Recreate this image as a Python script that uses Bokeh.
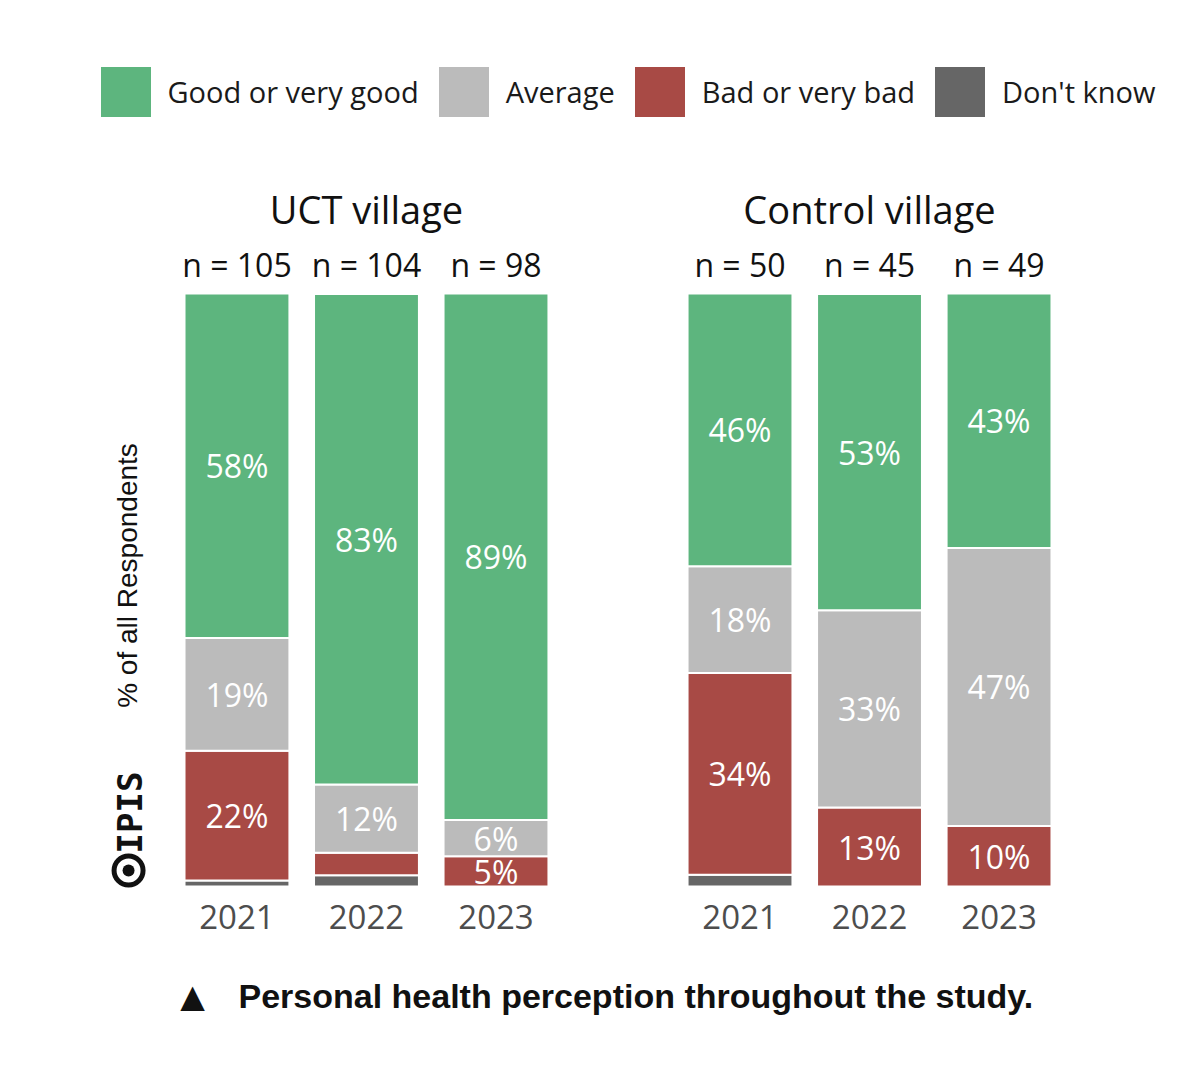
import math
from bokeh.plotting import figure
from bokeh.models import (ColumnDataSource, FactorRange, Range1d, Legend,
                          LegendItem, Label)
from bokeh.core.properties import value
from bokeh.embed import file_html
from bokeh.resources import INLINE

# ---------------- data ----------------
villages = ["UCT village"] * 3 + ["Control village"] * 3
years = ["2021", "2022", "2023", "2021", "2022", "2023"]
n_resp = [105, 104, 98, 50, 45, 49]
good = [58.1, 82.7, 88.8, 46.0, 53.3, 42.9]
average = [19.0, 11.5, 6.1, 18.0, 33.3, 46.9]
bad = [21.9, 3.8, 5.1, 34.0, 13.3, 10.2]
dont_know = [1.0, 1.9, 0.0, 2.0, 0.0, 0.0]

series_keys = ["dk", "bad", "avg", "good"]          # bottom -> top
series_labels = ["Don't know", "Bad or very bad", "Average", "Good or very good"]
series_colors = ["#666666", "#A84A45", "#BBBBBB", "#5DB57E"]
group_names = ["UCT village", "Control village"]
caption = "Personal health perception throughout the study."
y_label = "% of all Respondents"

FONT = "Open Sans"

factors = list(zip(villages, years))
src = ColumnDataSource(dict(x=factors, dk=dont_know, bad=bad, avg=average, good=good))

# ---------------- figure ----------------
W, H = 1184, 1056
LEFT = 51
x_range = FactorRange(*factors, factor_padding=0.0, group_padding=0.884,
                      range_padding=0.932, range_padding_units="absolute")
y_range = Range1d(-28.67, 149.41)

p = figure(width=W, height=H, x_range=x_range, y_range=y_range,
           output_backend="svg", toolbar_location=None,
           x_axis_location=None, y_axis_location=None,
           min_border_left=LEFT, min_border_right=0,
           min_border_top=0, min_border_bottom=0)
p.grid.visible = False
p.outline_line_color = None
p.background_fill_color = "white"
p.border_fill_color = "white"

renderers = p.vbar_stack(series_keys, x="x", width=0.81, source=src,
                         fill_color=series_colors, line_color="white",
                         line_width=2)

# percentage labels inside segments
lx, ly, lt = [], [], []
for i, f in enumerate(factors):
    base = 0.0
    for key, arr in zip(series_keys, [dont_know, bad, average, good]):
        v = arr[i]
        if v >= 5:
            lx.append(f)
            ly.append(base + v / 2)
            lt.append(f"{round(v)}%")
        base += v
p.text(x=lx, y=ly, text=lt, text_color="white", text_font=value(FONT),
       text_font_size="32px", text_align="center", text_baseline="middle")

# n = labels
p.text(x=factors, y=[104.9] * len(factors), text=[f"n = {n}" for n in n_resp],
       text_color="#111111", text_font=value(FONT), text_font_size="32px",
       text_align="center", text_baseline="middle")

# year labels
p.text(x=factors, y=[-5.1] * len(factors), text=years, text_color="#4d4d4d",
       text_font=value(FONT), text_font_size="33px", text_align="center",
       text_baseline="middle")

# group titles
p.text(x=group_names, y=[114.2] * 2, text=group_names, text_color="#111111",
       text_font=value(FONT), text_font_size="38px", text_align="center",
       text_baseline="middle")

# legend
items = [LegendItem(label=lab, renderers=[r])
         for lab, r in zip(series_labels, renderers)]
items = items[::-1]
legend = Legend(items=items, orientation="horizontal", location=(41.5, 932.5),
                glyph_width=65, glyph_height=65, label_standoff=10, spacing=12,
                padding=0, margin=0, border_line_alpha=0,
                background_fill_alpha=0, label_text_font=FONT,
                label_text_font_size="29px", label_text_color="#1a1a1a",
                label_height=65)
p.add_layout(legend, "center")

# y label
p.add_layout(Label(x=76, y=481, x_units="screen", y_units="screen",
                   text=y_label, angle=math.pi / 2, text_align="center",
                   text_baseline="middle", text_font="Liberation Sans",
                   text_font_size="28px", text_color="#111111"))

# logo
p.add_layout(Label(x=78, y=244, x_units="screen", y_units="screen",
                   text="IPIS", angle=math.pi / 2, text_align="center",
                   text_baseline="middle", text_font="DejaVu Sans Mono",
                   text_font_style="bold", text_font_size="34px",
                   text_color="#111111"))
p.scatter(x=[-0.337], y=[2.7], marker="circle", size=29, fill_alpha=0,
          line_color="#111111", line_width=5)
p.scatter(x=[-0.337], y=[2.7], marker="circle", size=12, fill_color="#111111",
          line_color=None)

# caption
p.add_layout(Label(x=141, y=61, x_units="screen", y_units="screen",
                   text="▲", text_align="center", text_baseline="middle",
                   text_font="DejaVu Sans", text_font_size="32px",
                   text_color="#111111"))
p.add_layout(Label(x=187, y=61, x_units="screen", y_units="screen",
                   text=caption, text_align="left", text_baseline="middle",
                   text_font="Liberation Sans", text_font_style="bold",
                   text_font_size="34px", text_color="#111111"))

open("out.html", "w").write(file_html(p, INLINE))
